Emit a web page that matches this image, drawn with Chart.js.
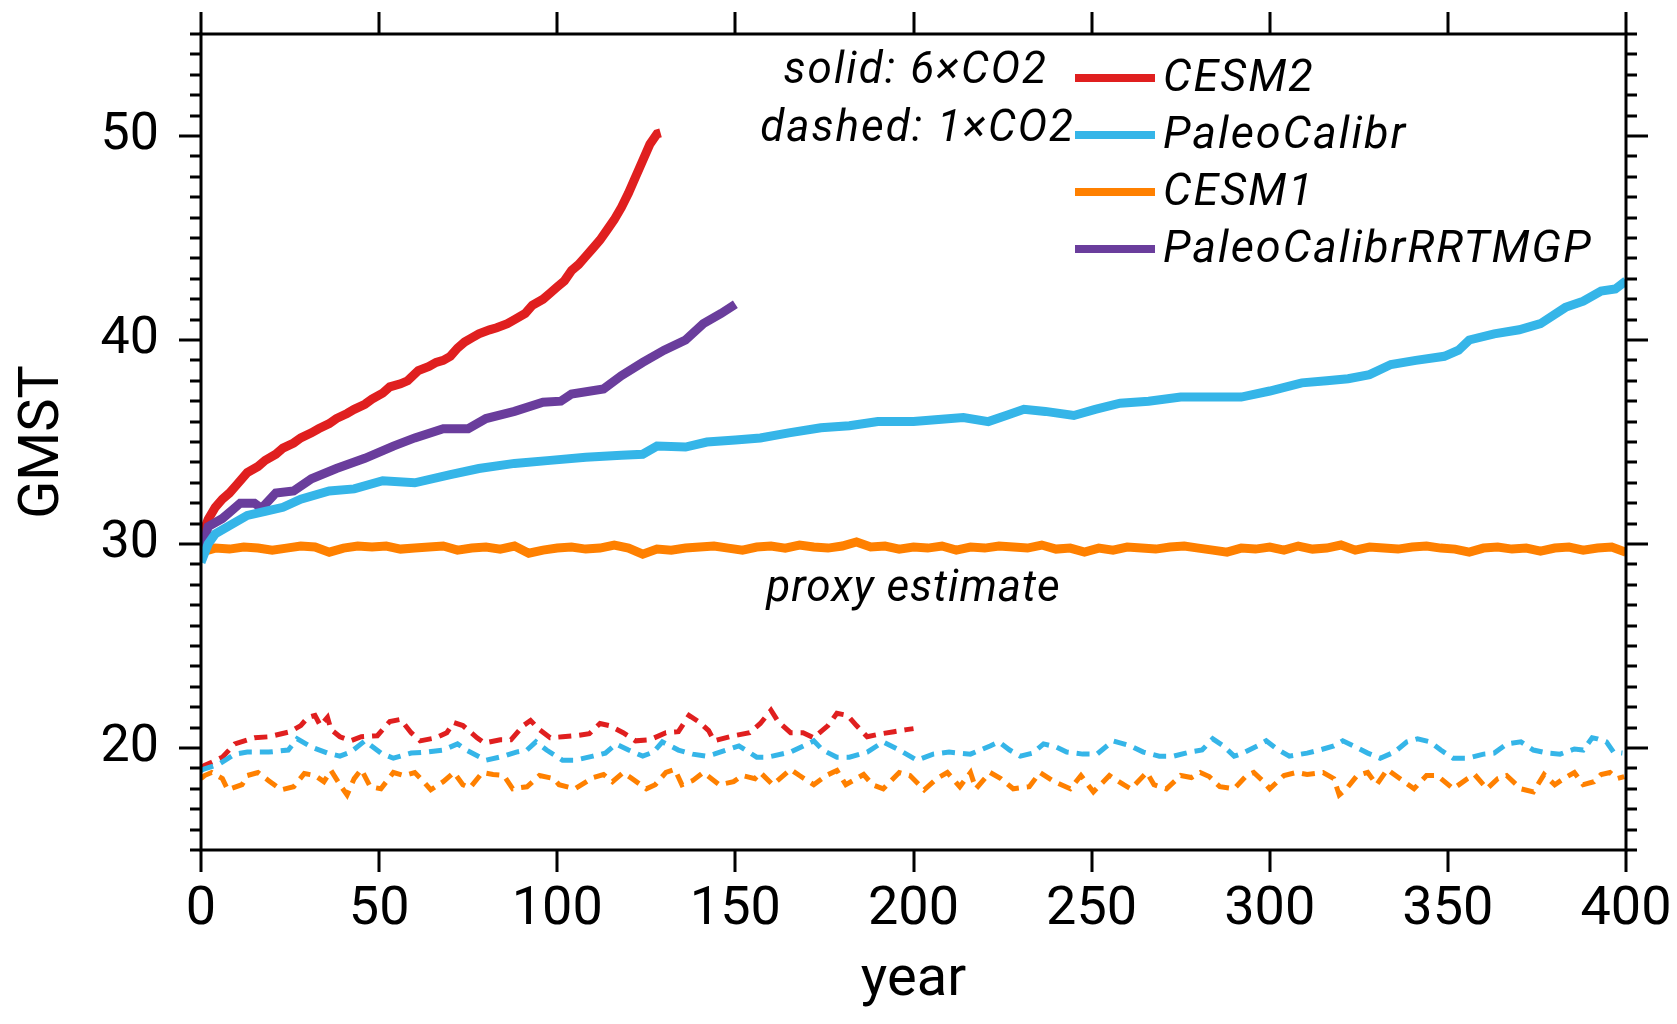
<!DOCTYPE html>
<html>
<head>
<meta charset="utf-8">
<title>GMST</title>
<script src="https://cdn.jsdelivr.net/npm/chart.js@4.4.1/dist/chart.umd.min.js"></script>
<style>
  html, body { margin: 0; padding: 0; background: #fff; }
  #wrap { width: 1677px; height: 1024px; }
</style>
</head>
<body>
<div id="wrap"><canvas id="gmst" width="1677" height="1024"></canvas></div>
<script>
// axis ticks
const xTicks = [0, 50, 100, 150, 200, 250, 300, 350, 400];
const yTicks = [20, 30, 40, 50];

// solid: 6xCO2, [year, GMST]
const cesm2Solid = [
  [0, 30.3], [2, 31.2], [4, 31.8], [6, 32.2], [8, 32.5], [10, 32.9], [13, 33.5], [16, 33.8],
  [18, 34.1], [21, 34.4], [23, 34.7], [26, 34.95], [28, 35.2], [31, 35.45], [33, 35.65], [36, 35.9],
  [38, 36.15], [41, 36.4], [43, 36.6], [46, 36.85], [48, 37.1], [51, 37.4], [53, 37.7], [56, 37.85],
  [58, 38.0], [61, 38.5], [64, 38.7], [66, 38.9], [68, 39.0], [70, 39.2], [72, 39.6], [74, 39.9],
  [76, 40.1], [78, 40.3], [81, 40.5], [83, 40.6], [86, 40.8], [88, 41.0], [91, 41.3], [93, 41.7],
  [96, 42.0], [98, 42.3], [100, 42.6], [102, 42.9], [104, 43.4], [106, 43.7], [108, 44.1], [110, 44.5],
  [112, 44.9], [114, 45.4], [116, 45.9], [118, 46.5], [120, 47.2], [122, 48.0], [124, 48.8], [126, 49.6],
  [128, 50.1], [129, 50.15]
];
const paleoCalibrSolid = [
  [0, 29.1], [2, 30.0], [4, 30.5], [8, 30.9], [13, 31.4], [18, 31.6], [23, 31.8], [28, 32.2],
  [36, 32.6], [43, 32.7], [51, 33.1], [60, 33.0], [70, 33.4], [78, 33.7], [88, 33.95], [98, 34.1],
  [108, 34.25], [118, 34.35], [124, 34.4], [128, 34.8], [136, 34.75], [142, 35.0], [150, 35.1], [157, 35.2],
  [165, 35.45], [174, 35.7], [182, 35.8], [190, 36.0], [200, 36.0], [207, 36.1], [214, 36.2], [221, 36.0],
  [226, 36.3], [231, 36.6], [237, 36.5], [245, 36.3], [251, 36.6], [258, 36.9], [266, 37.0], [275, 37.2],
  [283, 37.2], [292, 37.2], [300, 37.5], [309, 37.9], [316, 38.0], [322, 38.1], [328, 38.3], [334, 38.8],
  [341, 39.0], [349, 39.2], [353, 39.5], [356, 40.0], [363, 40.3], [370, 40.5], [376, 40.8], [383, 41.6],
  [388, 41.9], [393, 42.4], [397, 42.5], [400, 42.9]
];
const cesm1Solid = [
  [0, 29.6], [4, 29.8], [8, 29.75], [12, 29.85], [16, 29.8], [20, 29.7], [24, 29.8], [28, 29.9],
  [32, 29.85], [36, 29.6], [40, 29.8], [44, 29.9], [48, 29.85], [52, 29.9], [56, 29.75], [60, 29.8],
  [64, 29.85], [68, 29.9], [72, 29.7], [76, 29.8], [80, 29.85], [84, 29.75], [88, 29.9], [92, 29.55],
  [96, 29.7], [100, 29.8], [104, 29.85], [108, 29.75], [112, 29.8], [116, 29.95], [120, 29.8], [124, 29.5],
  [128, 29.75], [132, 29.7], [136, 29.8], [140, 29.85], [144, 29.9], [148, 29.8], [152, 29.7], [156, 29.85],
  [160, 29.9], [164, 29.8], [168, 29.95], [172, 29.85], [176, 29.8], [180, 29.9], [184, 30.1], [188, 29.85],
  [192, 29.9], [196, 29.75], [200, 29.85], [204, 29.8], [208, 29.9], [212, 29.7], [216, 29.85], [220, 29.8],
  [224, 29.9], [228, 29.85], [232, 29.8], [236, 29.95], [240, 29.75], [244, 29.8], [248, 29.6], [252, 29.8],
  [256, 29.7], [260, 29.85], [264, 29.8], [268, 29.75], [272, 29.85], [276, 29.9], [280, 29.8], [284, 29.7],
  [288, 29.6], [292, 29.8], [296, 29.75], [300, 29.85], [304, 29.7], [308, 29.9], [312, 29.75], [316, 29.8],
  [320, 29.95], [324, 29.7], [328, 29.85], [332, 29.8], [336, 29.75], [340, 29.85], [344, 29.9], [348, 29.8],
  [352, 29.75], [356, 29.6], [360, 29.8], [364, 29.85], [368, 29.75], [372, 29.8], [376, 29.65], [380, 29.8],
  [384, 29.85], [388, 29.7], [392, 29.8], [396, 29.85], [400, 29.6]
];
const rrtmgpSolid = [
  [0, 29.5], [2, 30.85], [6, 31.25], [9, 31.7], [11, 32.0], [15, 32.0], [17, 31.75], [21, 32.5],
  [26, 32.6], [31, 33.2], [38, 33.7], [46, 34.2], [54, 34.8], [60, 35.2], [68, 35.65], [75, 35.65],
  [80, 36.15], [88, 36.5], [96, 36.95], [101, 37.0], [104, 37.35], [113, 37.6], [118, 38.25], [124, 38.9],
  [130, 39.5], [136, 40.0], [141, 40.8], [146, 41.3], [150, 41.75]
];

// dashed: 1xCO2, [year, GMST]
const cesm2Dashed = [
  [0, 19.0], [1, 19.15], [3, 19.3], [6, 19.55], [9.5, 20.2], [15, 20.5], [19, 20.55], [25, 20.8],
  [28, 21.1], [30, 21.5], [32, 21.6], [33.5, 21.1], [35.5, 21.5], [36.5, 20.9], [39, 20.55], [42, 20.35],
  [45, 20.55], [49.5, 20.6], [53, 21.3], [56, 21.4], [59, 20.75], [61.5, 20.35], [66, 20.5], [69, 20.75],
  [71, 21.25], [73.5, 21.1], [77.5, 20.5], [79.5, 20.25], [84, 20.4], [87, 20.4], [90.5, 21.1], [92.5, 21.35],
  [95, 20.9], [98, 20.5], [101.5, 20.55], [105, 20.6], [109, 20.7], [112, 21.2], [114.5, 21.1], [118.5, 20.75],
  [122, 20.35], [126, 20.4], [130.5, 20.75], [134, 20.8], [137, 21.6], [140, 21.25], [142.5, 20.85], [144, 20.35],
  [149.5, 20.6], [154, 20.75], [157, 21.2], [160, 21.85], [162, 21.3], [165.5, 20.75], [169, 20.75], [172, 20.5],
  [176, 21.1], [178.5, 21.7], [181.5, 21.6], [184, 21.1], [187, 20.55], [191, 20.7], [194.5, 20.8], [198, 20.9],
  [200, 20.95]
];
const paleoCalibrDashed = [
  [0, 18.9], [1, 18.98], [5, 19.2], [9.5, 19.7], [13, 19.8], [19, 19.8], [24.5, 19.9], [27, 20.45],
  [31, 20.05], [35.5, 19.75], [39, 19.6], [42, 19.8], [46, 20.35], [50.5, 19.75], [54, 19.5], [59, 19.75],
  [63.5, 19.8], [68, 19.9], [72, 20.2], [74.5, 19.9], [80, 19.4], [85, 19.6], [88.5, 19.8], [91.5, 19.9],
  [94, 20.3], [97, 19.9], [101.5, 19.4], [105, 19.4], [110, 19.6], [113.5, 19.75], [116.5, 20.2], [120, 19.9],
  [124, 19.6], [127, 19.8], [129.5, 20.3], [134, 19.9], [138, 19.7], [142, 19.6], [144, 19.7], [147.5, 19.9],
  [151, 20.1], [156, 19.55], [159, 19.55], [165.5, 19.8], [172, 20.35], [174.5, 19.9], [178.5, 19.55], [182, 19.55],
  [187, 19.8], [191.5, 20.3], [196, 19.9], [201, 19.4], [205.5, 19.7], [210, 19.8], [216, 19.7], [221.5, 20.1],
  [224, 20.3], [227, 19.9], [230, 19.6], [233.5, 19.75], [236.5, 20.2], [240, 20.05], [243, 19.8], [247.5, 19.7],
  [251.5, 19.7], [256, 20.35], [261, 20.1], [264.5, 19.8], [269, 19.6], [273, 19.6], [277.5, 19.8], [281, 19.9],
  [284, 20.45], [287, 20.1], [290, 19.6], [292.5, 19.75], [296.5, 20.1], [299, 20.35], [302, 19.95], [305.5, 19.6],
  [310.5, 19.75], [314, 19.9], [318, 20.1], [320.5, 20.35], [323.5, 20.1], [327.5, 19.75], [331, 19.5], [335, 19.8],
  [338.5, 20.3], [341.5, 20.45], [345, 20.3], [348, 19.9], [351.5, 19.5], [355.5, 19.5], [360, 19.7], [363, 19.75],
  [366.5, 20.2], [370.5, 20.3], [374, 19.9], [378, 19.75], [381.5, 19.7], [385.5, 19.95], [388, 19.9], [390.5, 20.5],
  [392, 20.45], [394.5, 20.3], [396.5, 19.8], [399, 19.75]
];
const cesm1Dashed = [
  [0, 18.5], [1, 18.65], [3, 18.8], [6, 18.5], [7.5, 17.95], [11.5, 18.2], [13, 18.65], [16, 18.8],
  [19, 18.4], [22.5, 17.95], [26, 18.1], [29, 18.75], [32, 18.65], [34.5, 18.35], [36.5, 18.9], [39, 18.2],
  [41, 17.7], [43, 18.5], [45, 18.95], [47.5, 18.1], [50.5, 18.0], [54, 18.8], [57, 18.65], [60, 18.8],
  [62.5, 18.35], [64.5, 17.95], [68, 18.35], [71, 18.8], [73.5, 18.2], [75.5, 18.05], [79, 18.8], [82, 18.7],
  [85, 18.65], [87.5, 18.0], [91.5, 18.1], [95, 18.65], [99, 18.5], [100.5, 18.2], [105, 18.0], [110, 18.55],
  [113, 18.7], [115.5, 18.35], [118.5, 18.8], [121, 18.5], [125, 18.0], [127.5, 18.2], [130.5, 18.8], [133, 18.95],
  [135, 18.2], [138, 18.4], [141, 18.8], [145.5, 18.2], [149.5, 18.35], [152, 18.65], [155.5, 18.5], [157, 18.8],
  [160.5, 18.2], [165.5, 18.95], [168, 18.65], [172, 18.2], [175.5, 18.65], [178.5, 18.9], [181, 18.2], [186, 18.7],
  [188.5, 18.2], [191.5, 18.0], [196, 18.8], [199, 18.65], [203, 17.95], [206.5, 18.5], [209.5, 18.8], [213, 18.1],
  [216, 18.8], [217.5, 18.0], [221.5, 18.8], [224.5, 18.5], [228, 18.0], [232.5, 18.1], [235.5, 18.8], [239.5, 18.35],
  [244, 18.0], [247, 18.65], [250.5, 17.85], [255, 18.65], [259, 18.2], [261, 18.0], [265.5, 18.8], [267.5, 18.2],
  [271, 18.0], [275, 18.65], [278, 18.55], [280.5, 18.8], [283, 18.6], [286, 18.1], [290, 18.0], [293.5, 18.65],
  [295.5, 18.8], [298, 18.4], [300, 18.0], [304, 18.65], [307.5, 18.8], [310.5, 18.7], [315, 18.8], [318, 18.5],
  [319.5, 17.7], [321.5, 18.0], [324.5, 18.65], [327.5, 18.8], [330, 18.2], [333, 18.95], [336.5, 18.5], [340.5, 18.0],
  [344, 18.65], [347, 18.65], [351.5, 18.0], [355.5, 18.5], [357.5, 18.7], [361, 18.0], [364, 18.5], [366.5, 18.65],
  [370.5, 18.0], [374, 17.85], [377, 18.7], [380, 18.2], [382.5, 18.5], [385.5, 18.8], [388, 18.2], [391, 18.35],
  [393, 18.7], [395.5, 18.8], [397.5, 18.5], [399.5, 18.6]
];

const RED = '#e01f1f';
const BLUE = '#35b5e8';
const ORANGE = '#ff8000';
const PURPLE = '#6a3d9c';

const legendItems = [
  { label: 'CESM2', color: RED },
  { label: 'PaleoCalibr', color: BLUE },
  { label: 'CESM1', color: ORANGE },
  { label: 'PaleoCalibrRRTMGP', color: PURPLE },
];

const toXY = arr => arr.map(p => ({ x: p[0], y: p[1] }));

function solid(data, color) {
  return { data: toXY(data), borderColor: color, borderWidth: 9, pointRadius: 0, borderCapStyle: 'butt', tension: 0 };
}
function dashed(data, color) {
  return { data: toXY(data), borderColor: color, borderWidth: 5, borderDash: [13, 8], pointRadius: 0, tension: 0 };
}

// frame + tick marks on all four sides
const frameTicks = {
  id: 'frameTicks',
  afterDatasetsDraw(chart) {
    const { ctx, chartArea: a, scales: { x, y } } = chart;
    ctx.save();
    ctx.strokeStyle = '#000';
    ctx.lineWidth = 3;
    ctx.strokeRect(a.left, a.top, a.right - a.left, a.bottom - a.top);
    ctx.beginPath();
    for (let v = y.min; v <= y.max; v++) {
      const py = Math.round(y.getPixelForValue(v));
      const len = v % 10 === 0 ? 22 : 11;
      ctx.moveTo(a.left - len, py); ctx.lineTo(a.left, py);
      ctx.moveTo(a.right, py); ctx.lineTo(a.right + len, py);
    }
    xTicks.forEach(v => {
      const px = Math.round(x.getPixelForValue(v));
      ctx.moveTo(px, a.bottom); ctx.lineTo(px, a.bottom + 22);
      ctx.moveTo(px, a.top - 22); ctx.lineTo(px, a.top);
    });
    ctx.stroke();
    ctx.restore();
  }
};

// legend and notes written inside the frame
const notes = {
  id: 'notes',
  afterDraw(chart) {
    const { ctx, scales: { x, y } } = chart;
    ctx.save();
    ctx.fillStyle = '#000';
    ctx.textBaseline = 'middle';
    ctx.font = 'italic 44px Roboto';
    ctx.letterSpacing = '2px';
    ctx.textAlign = 'right';
    ctx.fillText('solid: 6×CO2', 1048, 72);
    ctx.fillText('dashed: 1×CO2', 1075, 130);

    ctx.textAlign = 'left';
    ctx.font = 'italic 45px Roboto';
    legendItems.forEach((item, i) => {
      const ly = 78 + i * 57;
      ctx.strokeStyle = item.color;
      ctx.lineWidth = 8;
      ctx.beginPath();
      ctx.moveTo(1075, ly); ctx.lineTo(1155, ly);
      ctx.stroke();
      ctx.fillText(item.label, 1163, ly + 2);
    });

    ctx.textAlign = 'center';
    ctx.font = 'italic 44px Roboto';
    ctx.letterSpacing = '1px';
    ctx.fillText('proxy estimate', x.getPixelForValue(200), y.getPixelForValue(27.75));
    ctx.restore();
  }
};

new Chart(document.getElementById('gmst'), {
  type: 'line',
  data: {
    datasets: [
      dashed(cesm1Dashed, ORANGE),
      dashed(paleoCalibrDashed, BLUE),
      dashed(cesm2Dashed, RED),
      solid(paleoCalibrSolid, BLUE),
      solid(cesm1Solid, ORANGE),
      solid(rrtmgpSolid, PURPLE),
      solid(cesm2Solid, RED),
    ],
  },
  options: {
    responsive: false,
    animation: false,
    devicePixelRatio: 1,
    layout: { padding: { left: 0, top: 34, right: 51, bottom: 0 } },
    plugins: { legend: { display: false }, tooltip: { enabled: false } },
    scales: {
      x: {
        type: 'linear', min: 0, max: 400, position: 'bottom',
        afterBuildTicks: s => { s.ticks = xTicks.map(v => ({ value: v })); },
        afterFit: s => { s.height = 174; s.paddingLeft = 0; s.paddingRight = 0; },
        grid: { display: false, drawTicks: false },
        border: { display: false },
        ticks: { padding: 28, color: '#000', maxRotation: 0, autoSkip: false, font: { family: 'Roboto', size: 54 } },
        title: { display: true, text: 'year', color: '#000', font: { family: 'Roboto', size: 56 }, padding: { top: 0, bottom: 9 } },
      },
      y: {
        type: 'linear', min: 15, max: 55,
        afterBuildTicks: s => { s.ticks = yTicks.map(v => ({ value: v })); },
        afterFit: s => { s.width = 201; s.paddingTop = 0; s.paddingBottom = 0; },
        grid: { display: false, drawTicks: false },
        border: { display: false },
        ticks: { padding: 42, color: '#000', font: { family: 'Roboto', size: 52 } },
        title: { display: true, text: 'GMST', color: '#000', font: { family: 'Roboto', size: 56 }, padding: { top: 10, bottom: 0 } },
      },
    },
  },
  plugins: [frameTicks, notes],
});
</script>
</body>
</html>
